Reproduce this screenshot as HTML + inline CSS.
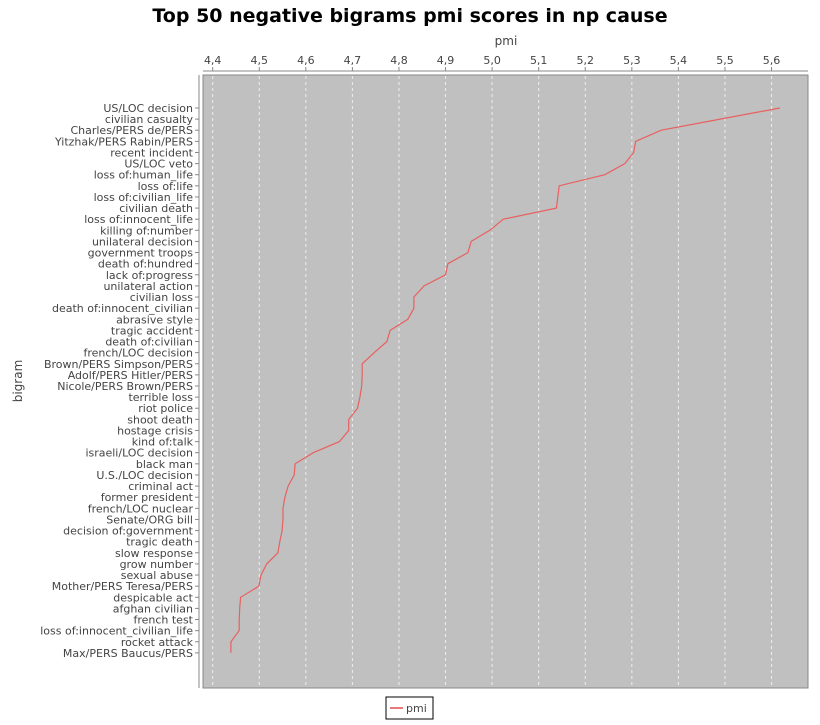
<!DOCTYPE html>
<html><head><meta charset="utf-8"><style>
body{margin:0;background:#fff;}
svg text{font-family:"DejaVu Sans","Liberation Sans",sans-serif;}
</style></head><body>
<svg id="chart" width="820" height="720" xmlns="http://www.w3.org/2000/svg">
<text x="410" y="22" text-anchor="middle" font-size="19" font-weight="bold" fill="#000">Top 50 negative bigrams pmi scores in np cause</text>
<text x="506" y="45" text-anchor="middle" font-size="12" fill="#444">pmi</text>
<text transform="translate(22,381) rotate(-90)" text-anchor="middle" font-size="12" fill="#444">bigram</text>
<rect x="203" y="75" width="605" height="613" fill="#c0c0c0" stroke="#888" stroke-width="1"/>
<line x1="199" y1="75" x2="199" y2="688" stroke="#888"/>
<line x1="203" y1="71" x2="808" y2="71" stroke="#888"/>
<g id="grid"></g><g id="xticks"></g><g id="yticks"></g><g id="series"></g>
<g>
<rect x="386" y="697" width="47" height="22" fill="#fff" stroke="#000"/>
<line x1="390" y1="708" x2="403" y2="708" stroke="#e97a7a" stroke-width="2"/>
<text x="406" y="712" font-size="11" fill="#444">pmi</text>
</g>
</svg>
<script>
const categories=["US/LOC decision","civilian casualty","Charles/PERS de/PERS","Yitzhak/PERS Rabin/PERS","recent incident","US/LOC veto","loss of:human_life","loss of:life","loss of:civilian_life","civilian death","loss of:innocent_life","killing of:number","unilateral decision","government troops","death of:hundred","lack of:progress","unilateral action","civilian loss","death of:innocent_civilian","abrasive style","tragic accident","death of:civilian","french/LOC decision","Brown/PERS Simpson/PERS","Adolf/PERS Hitler/PERS","Nicole/PERS Brown/PERS","terrible loss","riot police","shoot death","hostage crisis","kind of:talk","israeli/LOC decision","black man","U.S./LOC decision","criminal act","former president","french/LOC nuclear","Senate/ORG bill","decision of:government","tragic death","slow response","grow number","sexual abuse","Mother/PERS Teresa/PERS","despicable act","afghan civilian","french test","loss of:innocent_civilian_life","rocket attack","Max/PERS Baucus/PERS"];
const pmiValues=[5.618,5.49,5.363,5.308,5.304,5.285,5.242,5.144,5.141,5.138,5.024,4.995,4.955,4.948,4.905,4.900,4.854,4.832,4.832,4.819,4.781,4.774,4.747,4.721,4.721,4.72,4.716,4.711,4.692,4.692,4.672,4.616,4.577,4.575,4.562,4.555,4.551,4.551,4.549,4.544,4.540,4.516,4.504,4.499,4.460,4.458,4.457,4.457,4.439,4.439];
const xTicks=[4.4,4.5,4.6,4.7,4.8,4.9,5.0,5.1,5.2,5.3,5.4,5.5,5.6];
const xLabels=["4,4","4,5","4,6","4,7","4,8","4,9","5,0","5,1","5,2","5,3","5,4","5,5","5,6"];
const NS="http://www.w3.org/2000/svg";
function x(v){return 212.7+(v-4.4)*465.7;}
function y(i){return 108+i*11.12;}
function mk(tag,attrs,parent){const e=document.createElementNS(NS,tag);for(const k in attrs)e.setAttribute(k,attrs[k]);parent.appendChild(e);return e;}
const grid=document.getElementById('grid'),xt=document.getElementById('xticks'),yt=document.getElementById('yticks'),ser=document.getElementById('series');
xTicks.forEach((t,i)=>{
  const g=mk('line',{x1:x(t),y1:76,x2:x(t),y2:687,stroke:'#eee','stroke-dasharray':'3,3','stroke-width':1},grid);
  
  
  mk('line',{x1:x(t),y1:67,x2:x(t),y2:71,stroke:'#888'},xt);
  const tx=mk('text',{x:x(t),y:64,'text-anchor':'middle','font-size':11,fill:'#444'},xt);
  tx.textContent=xLabels[i];
  
  
});
categories.forEach((c,i)=>{
  mk('line',{x1:195,y1:y(i),x2:199,y2:y(i),stroke:'#888'},yt);
  const tx=mk('text',{x:193,y:y(i)+4,'text-anchor':'end','font-size':11,fill:'#444'},yt);
  tx.textContent=c;
  
  
});
const pts=pmiValues.map((v,i)=>x(v).toFixed(1)+','+y(i).toFixed(1)).join(' ');
const pl=mk('polyline',{points:pts,fill:'none',stroke:'#e86060','stroke-width':1.2},ser);


</script>
</body></html>
